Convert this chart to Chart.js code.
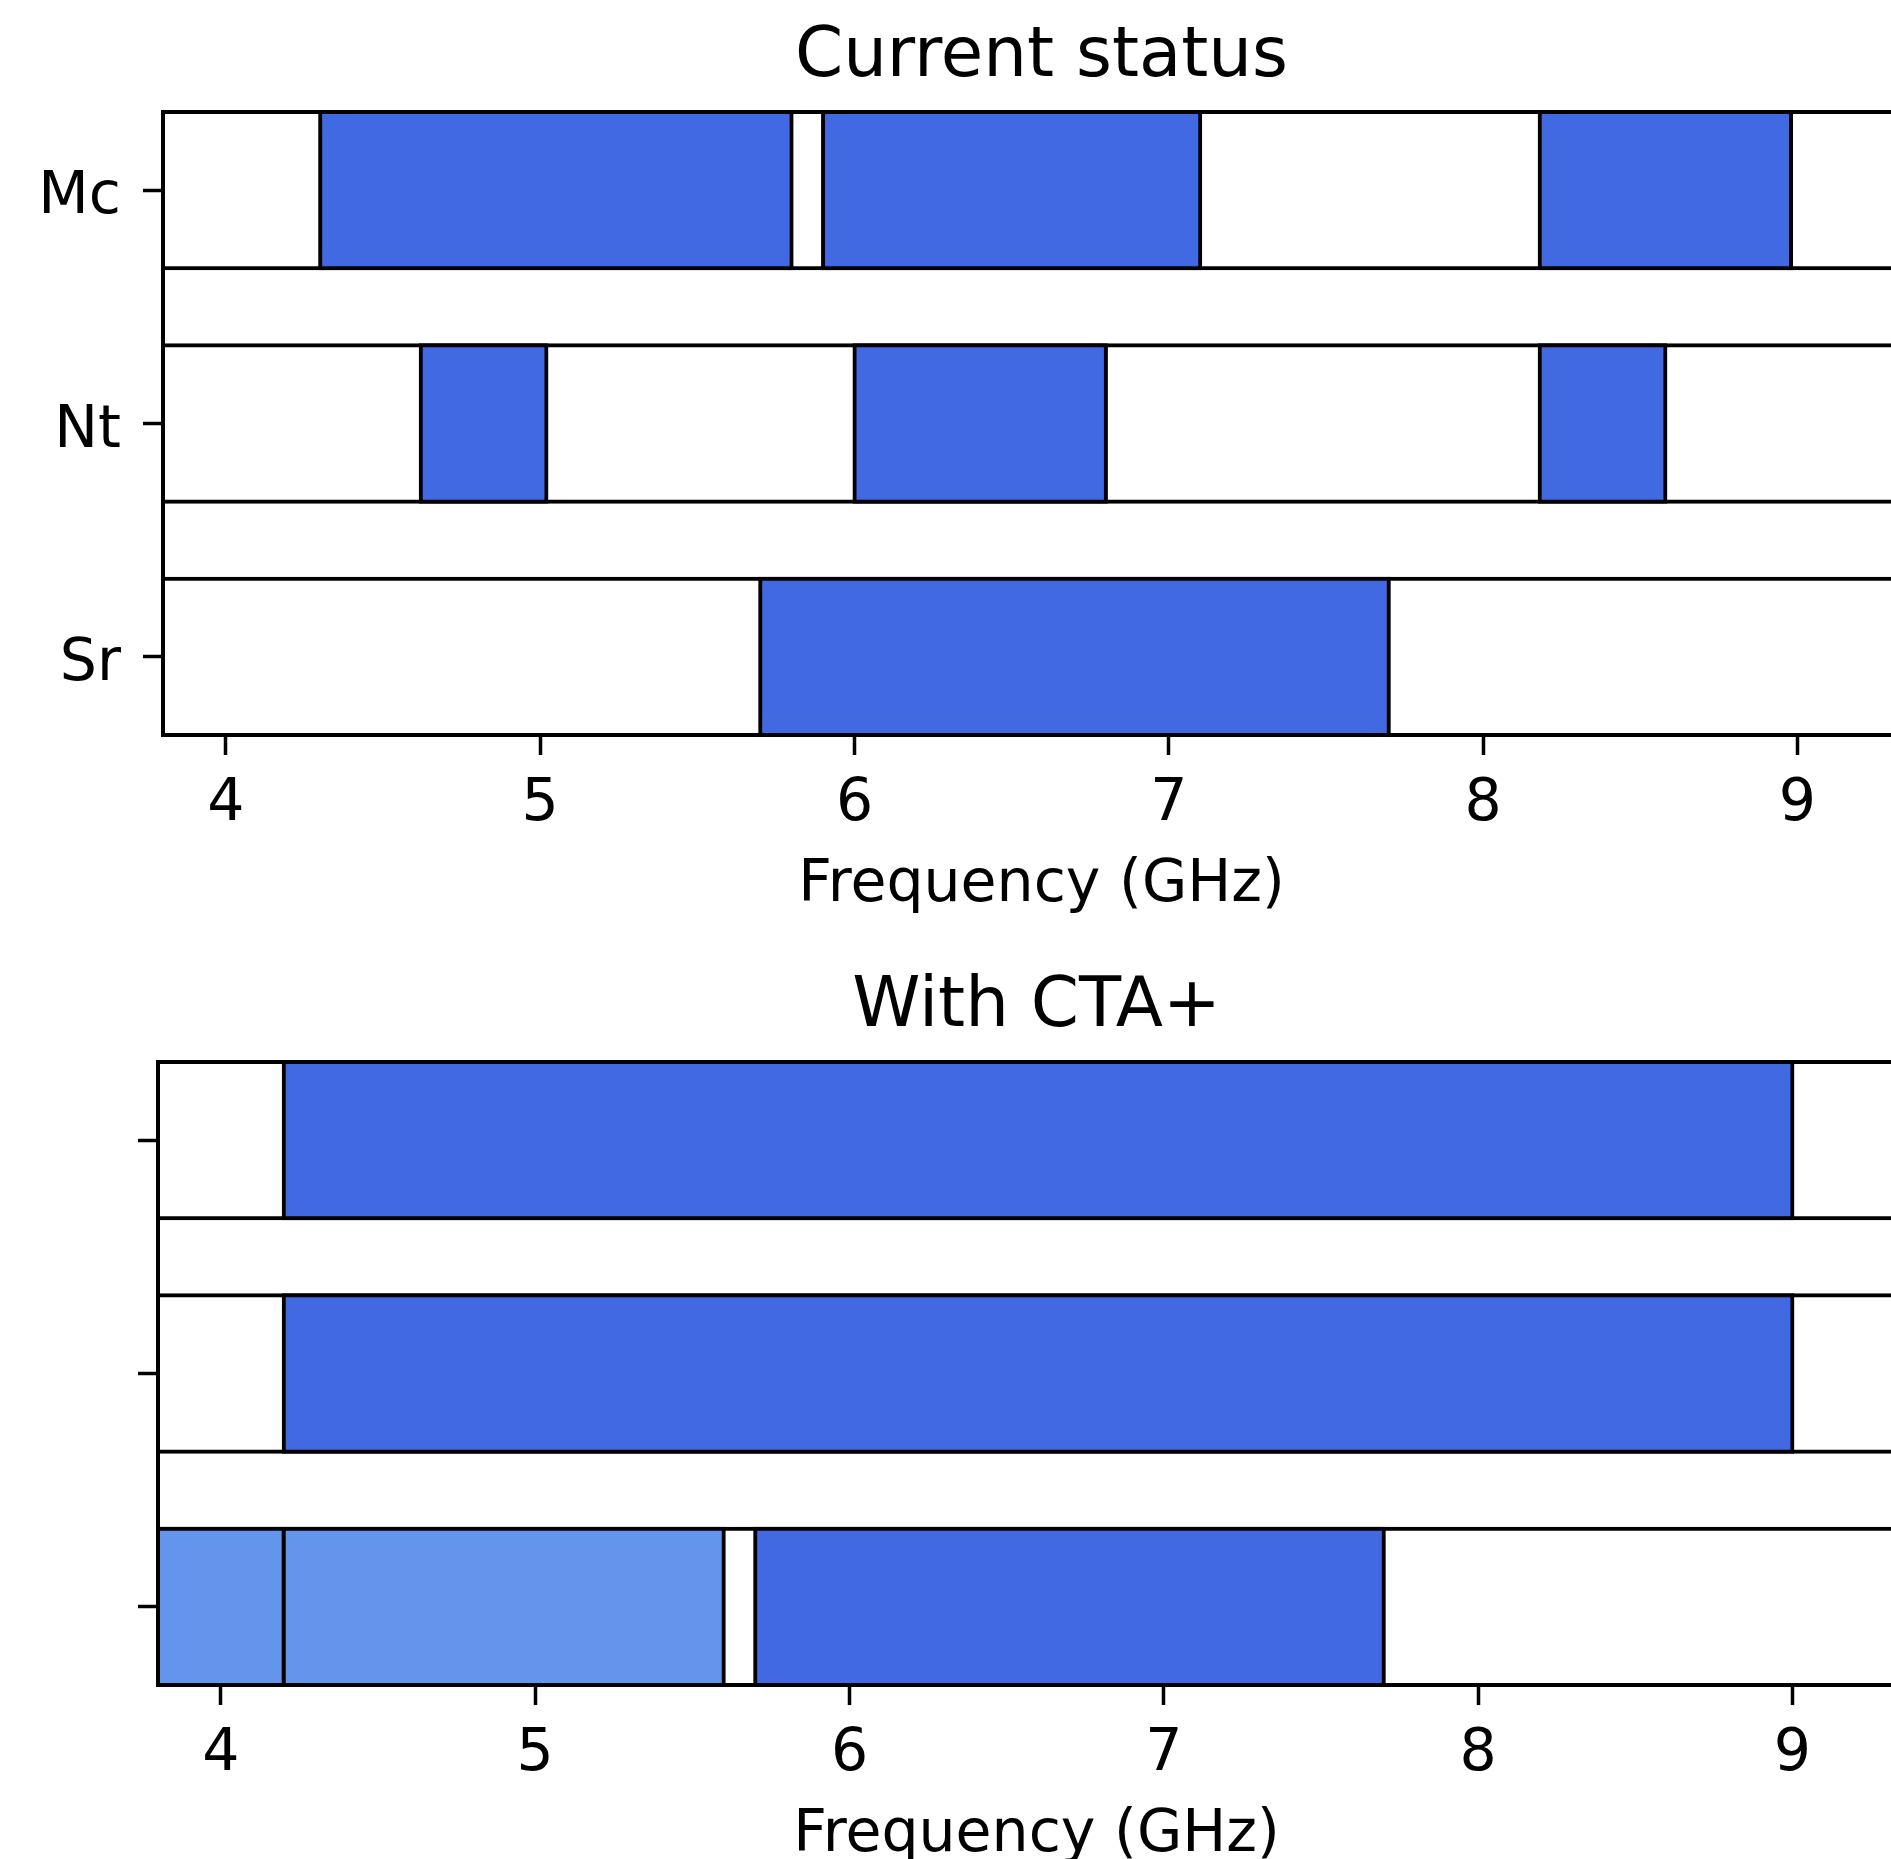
<!DOCTYPE html>
<html>
<head>
<meta charset="utf-8">
<title>Frequency coverage</title>
<script src="https://cdn.jsdelivr.net/npm/chart.js@4.4.1/dist/chart.umd.min.js"></script>
<style>
  html, body { margin: 0; padding: 0; background: #fff; overflow: hidden; }
  #page { position: relative; width: 1891px; height: 1859px; overflow: hidden; background: #fff; }
  .panel { position: absolute; left: 0; }
</style>
</head>
<body>
<div id="page">
  <canvas id="current" class="panel" style="top:0px" width="1920" height="950"></canvas>
  <canvas id="cta" class="panel" style="top:950px" width="1915" height="950"></canvas>
</div>
<script>
// Receivers, top to bottom
const categories = ['Mc', 'Nt', 'Sr'];

// Covered bands in GHz, [start, end]
const mcCurrent = [[4.3, 5.8], [5.9, 7.1], [8.18, 8.98]];
const ntCurrent = [[4.62, 5.02], [6.0, 6.8], [8.18, 8.58]];
const srCurrent = [[5.7, 7.7]];

const mcCta = [[4.2, 9.0]];
const ntCta = [[4.2, 9.0]];
const srCta = [[5.7, 7.7]];
// Sr bands added with CTA+ (lighter shade)
const srCtaAdded = [[3.8, 4.2], [4.2, 5.6]];

const xTicks = [4, 5, 6, 7, 8, 9];

// Axis limits and drawing constants
const X_MIN = 3.8;
const X_MAX = 9.39;
const BAR_H = 0.67;
const FONT = 'DejaVu Sans';
const BLUE = '#4169E1';
const LIGHT = '#6495ED';

function toPoints(rows) {
  const pts = [];
  rows.forEach((bands, row) => bands.forEach(b => pts.push({ x: b, y: row })));
  return pts;
}

const barStyle = {
  borderColor: '#000',
  borderWidth: 4,
  inflateAmount: 2,
  borderSkipped: false,
  grouped: false,
  barPercentage: BAR_H,
  categoryPercentage: 1,
  clip: 3
};

function makeChart(canvasId, title, mainRows, addedRows, showLabels, axisWidth) {
  const datasets = [
    Object.assign({ label: 'covered', data: toPoints(mainRows), backgroundColor: BLUE }, barStyle)
  ];
  if (addedRows) {
    datasets.push(Object.assign({ label: 'added', data: toPoints(addedRows), backgroundColor: LIGHT }, barStyle));
  }
  // full-width row frames behind the bands
  datasets.push(Object.assign({
    label: 'row',
    data: categories.map((c, i) => ({ x: [X_MIN, X_MAX], y: i })),
    backgroundColor: '#fff'
  }, barStyle));

  const tickGrid = {
    display: true,
    offset: false,
    drawOnChartArea: false,
    drawTicks: true,
    tickLength: 20,
    tickWidth: 3.5,
    tickColor: '#000'
  };
  const spine = { display: true, color: '#000', width: 4 };

  return new Chart(document.getElementById(canvasId), {
    type: 'bar',
    data: { datasets },
    options: {
      indexAxis: 'y',
      responsive: false,
      animation: false,
      events: [],
      layout: { padding: { left: 0, right: 0, top: 0, bottom: 29.1 } },
      plugins: {
        legend: { display: false },
        tooltip: { enabled: false },
        title: {
          display: true,
          text: title,
          fullSize: false,
          color: '#000',
          font: { family: FONT, size: 69, weight: 'normal' },
          padding: { top: 16.3, bottom: 12.9 }
        }
      },
      scales: {
        x: {
          type: 'linear',
          offset: false,
          min: X_MIN,
          max: X_MAX,
          afterBuildTicks: s => { s.ticks = xTicks.map(v => ({ value: v })); },
          ticks: {
            color: '#000',
            font: { family: FONT, size: 58.5 },
            padding: 14.4,
            maxRotation: 0,
            autoSkip: false,
            callback: v => String(v)
          },
          grid: tickGrid,
          border: spine,
          title: {
            display: true,
            text: 'Frequency (GHz)',
            color: '#000',
            font: { family: FONT, size: 58.5 },
            padding: { top: -3.3, bottom: 0 }
          }
        },
        y: {
          type: 'linear',
          offset: false,
          reverse: true,
          min: -BAR_H / 2,
          max: categories.length - 1 + BAR_H / 2,
          afterBuildTicks: s => { s.ticks = categories.map((c, i) => ({ value: i })); },
          afterFit: s => { s.width = axisWidth; },
          ticks: {
            color: '#000',
            font: { family: FONT, size: 58.5 },
            padding: 22,
            labelOffset: 8,
            autoSkip: false,
            callback: v => (showLabels ? categories[v] : '')
          },
          grid: tickGrid,
          border: spine
        }
      }
    }
  });
}

makeChart('current', 'Current status', [mcCurrent, ntCurrent, srCurrent], null, true, 163);
makeChart('cta', 'With CTA+', [mcCta, ntCta, srCta], [[], [], srCtaAdded], false, 158);
</script>
</body>
</html>
